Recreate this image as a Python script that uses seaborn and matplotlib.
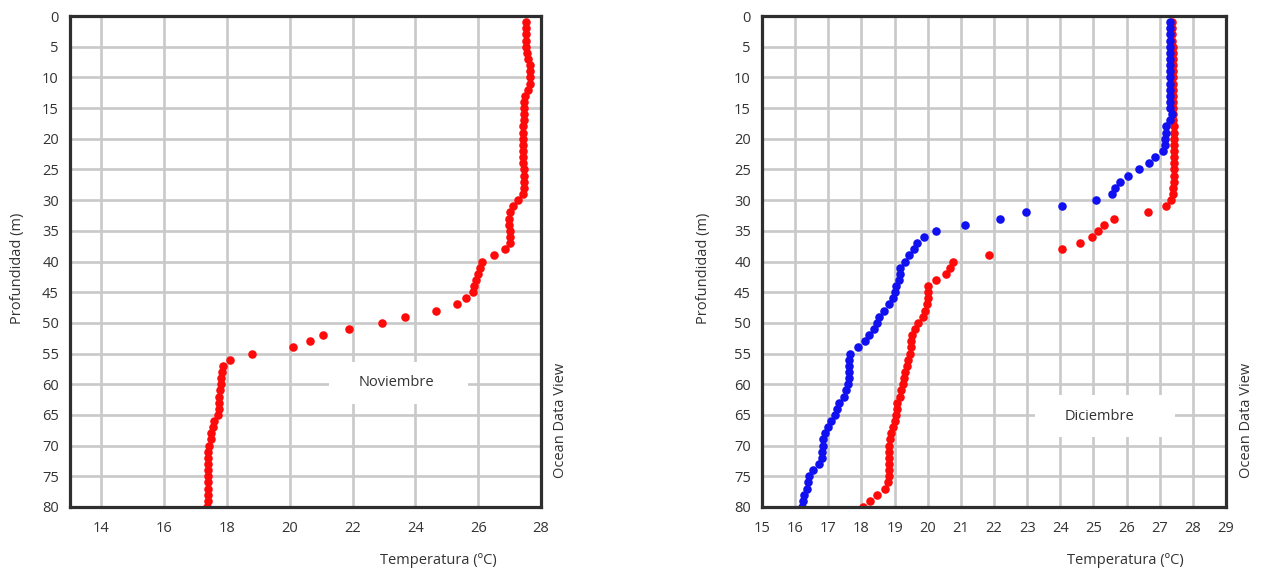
import numpy as np
import pandas as pd
import matplotlib
matplotlib.use("Agg")
import matplotlib.pyplot as plt
import seaborn as sns
from matplotlib.patches import Rectangle

# ---------------- data ----------------
depth = list(range(1, 81))

nov_red = [27.53, 27.52, 27.52, 27.52, 27.53, 27.55, 27.6, 27.64, 27.66, 27.66,
           27.64, 27.6, 27.48, 27.46, 27.45, 27.45, 27.45, 27.44, 27.44, 27.44,
           27.44, 27.44, 27.44, 27.44, 27.45, 27.45, 27.45, 27.46, 27.44, 27.27,
           27.12, 27.02, 26.98, 26.98, 27.0, 27.02, 27.0, 26.84, 26.5, 26.12,
           26.06, 26.0, 25.94, 25.86, 25.83, 25.6, 25.33, 24.65, 23.66, 22.94,
           21.88, 21.06, 20.64, 20.1, 18.81, 18.08, 17.87, 17.85, 17.82, 17.8,
           17.78, 17.76, 17.74, 17.73, 17.7, 17.6, 17.54, 17.5, 17.48, 17.44,
           17.4, 17.38, 17.38, 17.38, 17.4, 17.4, 17.4, 17.4, 17.38, 17.36]

dic_blue = [27.32, 27.32, 27.31, 27.31, 27.31, 27.31, 27.3, 27.3, 27.3, 27.3,
            27.3, 27.3, 27.3, 27.3, 27.3, 27.37, 27.3, 27.2, 27.18, 27.17,
            27.16, 27.1, 26.87, 26.68, 26.38, 26.03, 25.81, 25.65, 25.56, 25.09,
            24.05, 22.97, 22.17, 21.12, 20.26, 19.89, 19.68, 19.6, 19.45, 19.3,
            19.16, 19.15, 19.12, 19.05, 19.0, 18.94, 18.83, 18.67, 18.52, 18.47,
            18.39, 18.23, 18.1, 17.9, 17.67, 17.63, 17.62, 17.62, 17.62, 17.6,
            17.54, 17.46, 17.33, 17.26, 17.2, 17.09, 16.98, 16.9, 16.85, 16.83,
            16.82, 16.8, 16.71, 16.54, 16.43, 16.4, 16.35, 16.27, 16.24, 16.21]

dic_red = [27.37, 27.38, 27.38, 27.38, 27.39, 27.39, 27.4, 27.4, 27.4, 27.4,
           27.4, 27.4, 27.4, 27.4, 27.4, 27.4, 27.41, 27.42, 27.42, 27.42,
           27.42, 27.42, 27.42, 27.42, 27.42, 27.42, 27.42, 27.41, 27.4, 27.35,
           27.2, 26.66, 25.61, 25.31, 25.14, 24.95, 24.6, 24.04, 21.84, 20.76,
           20.68, 20.56, 20.25, 20.0, 20.0, 20.0, 19.97, 19.93, 19.87, 19.71,
           19.62, 19.53, 19.51, 19.49, 19.46, 19.4, 19.36, 19.31, 19.28, 19.24,
           19.2, 19.15, 19.07, 19.06, 19.05, 19.02, 18.96, 18.89, 18.86, 18.83,
           18.82, 18.82, 18.82, 18.82, 18.82, 18.8, 18.7, 18.47, 18.25, 18.05]

left_xticks = [14, 16, 18, 20, 22, 24, 26, 28]
right_xticks = list(range(15, 30))
yticks = list(range(0, 85, 5))

xlabel = "Temperatura (ºC)"
ylabel = "Profundidad (m)"
side_label = "Ocean Data View"
left_title = "Noviembre"
right_title = "Diciembre"

df_nov = pd.DataFrame({"Temperatura": nov_red, "Profundidad": depth})
df_dic_r = pd.DataFrame({"Temperatura": dic_red, "Profundidad": depth})
df_dic_b = pd.DataFrame({"Temperatura": dic_blue, "Profundidad": depth})

# ---------------- style ----------------
sns.set_theme(style="white")
plt.rcParams["font.family"] = ["Open Sans", "DejaVu Sans"]
TXT = "#333333"
GRID = "#c9c9c9"
RED = "#ff0a0a"
BLUE = "#1010f0"
FS = 10.5

W, H = 1262, 572
fig = plt.figure(figsize=(W / 100, H / 100), dpi=100)
fig.patch.set_facecolor("white")


def fx(px):
    return px / W


def fy(py):
    return 1 - py / H


def make_axes(x0, x1, y0, y1):
    return fig.add_axes([fx(x0), fy(y1), fx(x1) - fx(x0), fy(y0) - fy(y1)])


axL = make_axes(70, 541, 16, 507)
axR = make_axes(762, 1226, 16, 507)

MS = 38

sns.scatterplot(data=df_nov, x="Temperatura", y="Profundidad", ax=axL,
                color=RED, s=MS, linewidth=0, zorder=3, legend=False)
sns.scatterplot(data=df_dic_r, x="Temperatura", y="Profundidad", ax=axR,
                color=RED, s=MS, linewidth=0, zorder=3, legend=False)
sns.scatterplot(data=df_dic_b, x="Temperatura", y="Profundidad", ax=axR,
                color=BLUE, s=MS, linewidth=0, zorder=4, legend=False)

for ax, xt, xlim in [(axL, left_xticks, (13, 28)), (axR, right_xticks, (15, 29))]:
    ax.set_xlim(*xlim)
    ax.set_ylim(80, 0)
    ax.set_xticks(xt)
    ax.set_yticks(yticks)
    ax.set_xlabel("")
    ax.set_ylabel("")
    ax.grid(True, color=GRID, linewidth=1.9, zorder=0)
    ax.set_axisbelow(True)
    for sp in ax.spines.values():
        sp.set_color("#2e2e2e")
        sp.set_linewidth(2.3)
        sp.set_zorder(5)
    ax.tick_params(axis="both", which="both", labelsize=FS, labelcolor=TXT,
                   length=4, width=2, color=GRID, pad=4)
    ax.tick_params(axis="x", pad=6)

# labels
fig.text(fx(438), fy(561), xlabel, ha="center", va="center", fontsize=FS, color=TXT)
fig.text(fx(1125), fy(561), xlabel, ha="center", va="center", fontsize=FS, color=TXT)
fig.text(fx(18), fy(268), ylabel, ha="center", va="center", rotation=90, fontsize=FS, color=TXT)
fig.text(fx(704), fy(268), ylabel, ha="center", va="center", rotation=90, fontsize=FS, color=TXT)
fig.text(fx(561), fy(420), side_label, ha="center", va="center", rotation=90, fontsize=FS, color=TXT)
fig.text(fx(1247), fy(420), side_label, ha="center", va="center", rotation=90, fontsize=FS, color=TXT)

# title boxes
for (bx0, bx1, by0, by1, cx, cy, label) in [
        (329, 468, 362, 404, 396, 383, left_title),
        (1035, 1175, 395, 437, 1100, 416, right_title)]:
    fig.patches.append(Rectangle((fx(bx0), fy(by1)), fx(bx1) - fx(bx0), fy(by0) - fy(by1),
                                 transform=fig.transFigure, facecolor="white",
                                 edgecolor="none", zorder=10))
    fig.text(fx(cx), fy(cy), label, ha="center", va="center", fontsize=FS,
             color=TXT, zorder=11)

fig.savefig("out.png", dpi=100, facecolor="white")
